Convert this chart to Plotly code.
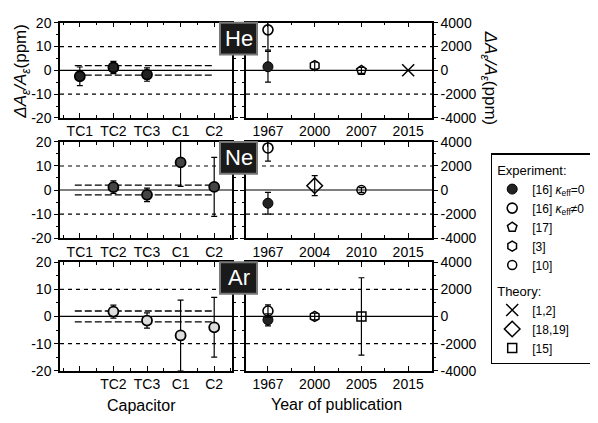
import plotly.graph_objects as go

# page is rendered with the browser's default 8px body margin
OFF = 8
W, H = 590, 415

# ---------------- data ----------------
gases = ["He", "Ne", "Ar"]
capacitors = ["TC1", "TC2", "TC3", "C1", "C2"]
cap_ticks = {
    "He": ["TC1", "TC2", "TC3", "C1", "C2"],
    "Ne": ["TC1", "TC2", "TC3", "C1", "C2"],
    "Ar": [" ", "TC2", "TC3", "C1", "C2"],
}
year_ticks = {
    "He": ["1967", "2000", "2007", "2015"],
    "Ne": ["1967", "2004", "2010", "2015"],
    "Ar": ["1967", "2000", "2005", "2015"],
}

# capacitor results (ppm), [16] kappa_eff = 0
cap_vals = {
    "He": [-2.5, 1.2, -1.8, None, None],
    "Ne": [None, 1.2, -2.0, 11.5, 1.3],
    "Ar": [None, 1.8, -1.5, -7.0, -4.0],
}
cap_errs = {
    "He": [3.9, 2.6, 2.8, 0, 0],
    "Ne": [0, 2.6, 2.8, 10.0, 12.3],
    "Ar": [0, 2.4, 2.8, 13.0, 11.0],
}
cap_band = 2.0      # ppm, dashed band
cap_grid = 10.0     # ppm
year_grid = 2000.0  # ppm

# literature results (ppm): series -> gas -> (year index, value, error)
lit = {
    "k0":   {"He": (0, 300, 1300), "Ne": (0, -1100, 900), "Ar": (0, -250, 450)},
    "kn0":  {"He": (0, 3400, 1700), "Ne": (0, 3500, 1100), "Ar": (0, 400, 450)},
    "r17":  {"He": (2, 0, 250)},
    "r3":   {"He": (1, 400, 300), "Ar": (1, 0, 250)},
    "r10":  {"Ne": (2, 0, 200)},
    "t12":  {"He": (3, 0, 0)},
    "t1819": {"Ne": (1, 360, 830)},
    "t15":  {"Ar": (2, 0, 2850)},
}
series_names = {
    "k0": "[16] <i>κ</i><sub>eff</sub>=0",
    "kn0": "[16] <i>κ</i><sub>eff</sub>≠0",
    "r17": "[17]",
    "r3": "[3]",
    "r10": "[10]",
    "t12": "[1,2]",
    "t1819": "[18,19]",
    "t15": "[15]",
}

# ---------------- styles ----------------
symbols = {
    "k0": dict(symbol="circle", color="#222", size=10, line=dict(color="black", width=1)),
    "kn0": dict(symbol="circle-open", color="black", size=10, line=dict(color="black", width=1.6)),
    "r17": dict(symbol="pentagon-open", color="black", size=10, line=dict(color="black", width=1.5)),
    "r3": dict(symbol="hexagon-open", color="black", size=10, line=dict(color="black", width=1.5)),
    "r10": dict(symbol="circle-open", color="black", size=9, line=dict(color="black", width=1.5)),
    "t12": dict(symbol="x-thin-open", color="black", size=12, line=dict(color="black", width=1.5)),
    "t1819": dict(symbol="diamond-open", color="black", size=12, line=dict(color="black", width=1.5)),
    "t15": dict(symbol="square-open", color="black", size=9, line=dict(color="black", width=1.5)),
}
group_of = {k: ("exp" if k in ("k0", "kn0", "r17", "r3", "r10") else "th") for k in symbols}
rank = {k: i for i, k in enumerate(symbols)}
cap_marker_color = {"He": "#222", "Ne": "#444", "Ar": "#ddd"}

FONT = "Arial"
rows_px = [(15, 114), (139, 239), (264, 377)]
left_px = (60, 232)
right_px = (246, 432)


def px(xp):
    return (xp - OFF) / W


def py(yp):
    return 1 - (yp - OFF) / H


def ax(i, kind):
    return (kind + "axis") if i == 1 else f"{kind}axis{i}"


def ref(i, kind):
    return kind if i == 1 else f"{kind}{i}"


fig = go.Figure()
layout = {}
shapes = []
annotations = []
shown = set()

for r, gas in enumerate(gases):
    li, ri = 2 * r + 1, 2 * r + 2
    top, bot = rows_px[r]
    ydom = [py(bot), py(top)]

    common_x = dict(showline=True, linecolor="black", linewidth=1.5, mirror="ticks",
                    ticks="inside", ticklen=5, tickwidth=1.2, tickcolor="black",
                    showgrid=False, zeroline=False,
                    tickfont=dict(family=FONT, size=14, color="black"),
                    minor=dict(dtick=0.5, ticks="inside", ticklen=3, tickcolor="black"))
    layout[ax(li, "x")] = dict(common_x, domain=[px(left_px[0]), px(left_px[1])],
                               anchor=ref(li, "y"), range=[-0.59, 4.53],
                               tickvals=list(range(len(capacitors))), ticktext=cap_ticks[gas])
    layout[ax(ri, "x")] = dict(common_x, domain=[px(right_px[0]), px(right_px[1])],
                               anchor=ref(ri, "y"), range=[-0.47, 3.51],
                               tickvals=list(range(4)), ticktext=year_ticks[gas])
    common_y = dict(showline=True, linecolor="black", linewidth=1.5, mirror="ticks",
                    ticks="outside", ticklen=4, tickwidth=1.2, tickcolor="black",
                    showgrid=False, zeroline=False,
                    tickfont=dict(family=FONT, size=14, color="black"))
    layout[ax(li, "y")] = dict(common_y, domain=ydom, anchor=ref(li, "x"), range=[-20, 20],
                               tickvals=[-20, -10, 0, 10, 20],
                               ticktext=["-20", "-10", "0", "10", "20"],
                               minor=dict(dtick=5, ticks="outside", ticklen=2, tickcolor="black"))
    layout[ax(ri, "y")] = dict(common_y, domain=ydom, anchor=ref(ri, "x"), range=[-4000, 4000],
                               side="right",
                               tickvals=[-4000, -2000, 0, 2000, 4000],
                               ticktext=["-4000", "-2000", "0", "2000", "4000"],
                               minor=dict(dtick=1000, ticks="outside", ticklen=2, tickcolor="black"))

    # reference lines, left panel
    for yv, dash in [(cap_grid, "4px,4px"), (-cap_grid, "4px,4px"), (0, "solid")]:
        shapes.append(dict(type="line", xref=f"{ref(li, 'x')} domain", yref=ref(li, "y"),
                           x0=0, x1=1, y0=yv, y1=yv, layer="below",
                           line=dict(color="black", width=1.2, dash=dash)))
    for yv in (cap_band, -cap_band):
        shapes.append(dict(type="line", xref=ref(li, "x"), yref=ref(li, "y"),
                           x0=-0.15, x1=3.95, y0=yv, y1=yv, layer="below",
                           line=dict(color="black", width=1.3, dash="7px,3px")))
    # reference lines, right panel
    for yv, dash in [(year_grid, "4px,4px"), (-year_grid, "4px,4px"), (0, "solid")]:
        shapes.append(dict(type="line", xref=f"{ref(ri, 'x')} domain", yref=ref(ri, "y"),
                           x0=0, x1=1, y0=yv, y1=yv, layer="below",
                           line=dict(color="black", width=1.2, dash=dash)))

    # capacitor points
    xs = [i for i, v in enumerate(cap_vals[gas]) if v is not None]
    ys = [cap_vals[gas][i] for i in xs]
    es = [cap_errs[gas][i] for i in xs]
    mk = dict(symbols["k0"])
    mk["color"] = cap_marker_color[gas]
    mk["line"] = dict(color="black", width=1.8)
    fig.add_trace(go.Scatter(
        x=xs, y=ys, mode="markers", xaxis=ref(li, "x"), yaxis=ref(li, "y"),
        error_y=dict(type="data", array=es, color="black", thickness=1.2, width=3),
        marker=mk, name=series_names["k0"], legendgroup="exp",
        legendgrouptitle_text="Experiment:", legendrank=rank["k0"],
        showlegend=False))

    # literature points
    for key, per_gas in lit.items():
        if gas not in per_gas:
            continue
        xi, v, e = per_gas[gas]
        grp = group_of[key]
        fig.add_trace(go.Scatter(
            x=[xi], y=[v], mode="markers", xaxis=ref(ri, "x"), yaxis=ref(ri, "y"),
            error_y=dict(type="data", array=[e], color="black", thickness=1.2, width=3,
                         visible=e > 0),
            marker=symbols[key], name=series_names[key], legendgroup=grp,
            legendgrouptitle_text=("Experiment:" if grp == "exp" else "Theory:"),
            legendrank=rank[key], showlegend=key not in shown))
        shown.add(key)

    # gas label box
    shapes.append(dict(type="rect", xref="paper", yref="paper",
                       x0=px(220), x1=px(257), y0=py(top + 33), y1=py(top),
                       fillcolor="#1a1a1a", line=dict(color="#777", width=2), layer="above"))
    annotations.append(dict(xref="paper", yref="paper", x=px(238.5), y=py(top + 16.5),
                            xanchor="center", yanchor="middle",
                            text=gas, showarrow=False,
                            font=dict(family=FONT, size=22, color="white")))

# axis titles
title_txt = "<i>ΔA</i><sub><i>ε</i></sub><i>/A</i><sub><i>ε</i></sub>(ppm)"
annotations += [
    dict(xref="paper", yref="paper", x=px(22), y=py(66), textangle=-90, showarrow=False,
         xanchor="center", yanchor="middle", text=title_txt,
         font=dict(family=FONT, size=17, color="black")),
    dict(xref="paper", yref="paper", x=px(489), y=py(72), textangle=90, showarrow=False,
         xanchor="center", yanchor="middle", text=title_txt,
         font=dict(family=FONT, size=17, color="black")),
    dict(xref="paper", yref="paper", x=px(141), y=py(413), showarrow=False,
         xanchor="center", yanchor="middle",
         text="Capacitor", font=dict(family=FONT, size=16, color="black")),
    dict(xref="paper", yref="paper", x=px(336), y=py(412), showarrow=False,
         xanchor="center", yanchor="middle",
         text="Year of publication", font=dict(family=FONT, size=16, color="black")),
]

fig.update_layout(
    width=W, height=H, margin=dict(l=0, r=0, t=0, b=0),
    paper_bgcolor="white", plot_bgcolor="white",
    font=dict(family=FONT, size=13, color="black"),
    shapes=shapes, annotations=annotations,
    legend=dict(x=px(491), y=py(151), xanchor="left", yanchor="top",
                bordercolor="black", borderwidth=1.2, bgcolor="white",
                font=dict(family=FONT, size=12, color="black"),
                grouptitlefont=dict(family=FONT, size=13, color="black"),
                tracegroupgap=6, itemwidth=30, traceorder="grouped"),
    **layout,
)

fig.write_html("out.html")
